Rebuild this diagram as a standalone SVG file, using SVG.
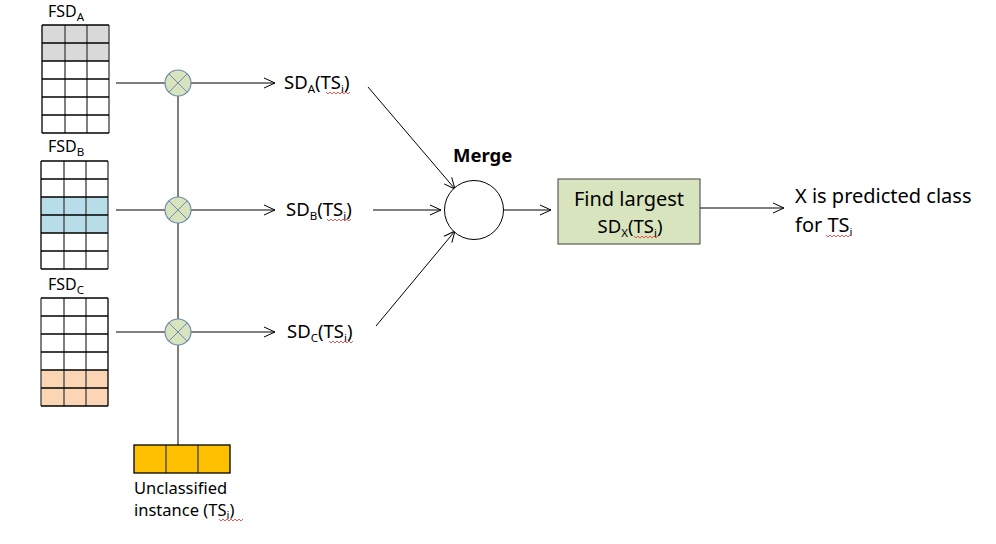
<svg xmlns="http://www.w3.org/2000/svg" width="996" height="544" viewBox="0 0 996 544">
<defs>
<marker id="arr" markerWidth="14" markerHeight="12" refX="12" refY="6" orient="auto" markerUnits="userSpaceOnUse">
<path d="M1,1 L12,6 L1,11" fill="none" stroke="#000" stroke-width="1"/>
</marker>
</defs>
<style>
text{font-family:"Noto Sans","Open Sans","Liberation Sans",sans-serif;fill:#000}
.lbl{font-size:20px}
.sd{font-size:18.5px}
.sm{font-size:16px}
.sub{font-size:11.5px}
.grid{stroke:#000;stroke-width:1.3;fill:none}
.gridv{stroke:#555;stroke-width:1.5}
.mul{fill:#d7e4bd;stroke:#6f8bb0;stroke-width:1.2}
.x{stroke:#6f8bb0;stroke-width:1;fill:none}
.ln{stroke:#000;stroke-width:1;fill:none}
.arrow{stroke:#000;stroke-width:1;fill:none;marker-end:url(#arr)}
.sq{stroke:#e03030;stroke-width:0.8;fill:none}
</style>
<rect width="996" height="544" fill="#fff"/>

<g id="fsdA">
<text class="sm" x="48" y="17">FSD<tspan class="sub" dy="4">A</tspan></text>
<rect x="42" y="25" width="67" height="36" fill="#d9d9d9"/>
<g class="gridv"><line x1="65" y1="25" x2="65" y2="133"/><line x1="87" y1="25" x2="87" y2="133"/><line x1="109" y1="25" x2="109" y2="133"/></g>
<g class="grid"><line x1="42" y1="25" x2="42" y2="133"/><line x1="42" y1="25" x2="109" y2="25"/><line x1="42" y1="43" x2="109" y2="43"/><line x1="42" y1="61" x2="109" y2="61"/><line x1="42" y1="79" x2="109" y2="79"/><line x1="42" y1="97" x2="109" y2="97"/><line x1="42" y1="115" x2="109" y2="115"/><line x1="42" y1="133" x2="109" y2="133"/></g>
</g>

<g id="fsdB">
<text class="sm" x="48" y="152">FSD<tspan class="sub" dy="4">B</tspan></text>
<rect x="41" y="197" width="67" height="36" fill="#b7dde8"/>
<g class="gridv"><line x1="64" y1="161" x2="64" y2="269"/><line x1="86" y1="161" x2="86" y2="269"/><line x1="108" y1="161" x2="108" y2="269"/></g>
<g class="grid"><line x1="41" y1="161" x2="41" y2="269"/><line x1="41" y1="161" x2="108" y2="161"/><line x1="41" y1="179" x2="108" y2="179"/><line x1="41" y1="197" x2="108" y2="197"/><line x1="41" y1="215" x2="108" y2="215"/><line x1="41" y1="233" x2="108" y2="233"/><line x1="41" y1="251" x2="108" y2="251"/><line x1="41" y1="269" x2="108" y2="269"/></g>
</g>

<g id="fsdC">
<text class="sm" x="48" y="290">FSD<tspan class="sub" dy="4">C</tspan></text>
<rect x="41" y="370" width="67" height="36" fill="#fcd5b5"/>
<g class="gridv"><line x1="41" y1="298" x2="41" y2="406"/><line x1="64" y1="298" x2="64" y2="406"/><line x1="86" y1="298" x2="86" y2="406"/></g>
<g class="grid"><line x1="108" y1="298" x2="108" y2="406"/><line x1="41" y1="298" x2="108" y2="298"/><line x1="41" y1="316" x2="108" y2="316"/><line x1="41" y1="334" x2="108" y2="334"/><line x1="41" y1="352" x2="108" y2="352"/><line x1="41" y1="370" x2="108" y2="370"/><line x1="41" y1="388" x2="108" y2="388"/><line x1="41" y1="406" x2="108" y2="406"/></g>
</g>

<g id="instance">
<rect x="134" y="445" width="96" height="28" fill="#ffc000"/>
<g class="gridv"><line x1="166" y1="445" x2="166" y2="473"/><line x1="198" y1="445" x2="198" y2="473"/></g>
<rect x="134" y="445" width="96" height="28" class="grid"/>
<text style="font-size:16.5px" x="134" y="494">Unclassified</text>
<text style="font-size:16.5px" x="134" y="516">instance (TS<tspan class="sub" dy="3">i</tspan><tspan dy="-3">)</tspan></text>
<path class="sq" d="M219,519 l2,2 l2,-2 l2,2 l2,-2 l2,2 l2,-2 l2,2 l2,-2 l2,2 l2,-2 l2,2 l2,-2"/>
</g>

<g id="connectors">
<line class="ln" x1="116" y1="83" x2="165" y2="83"/>
<line class="ln" x1="116" y1="210" x2="165" y2="210"/>
<line class="ln" x1="116" y1="332" x2="165" y2="332"/>
<line class="ln" x1="178" y1="96" x2="178" y2="197"/>
<line class="ln" x1="178" y1="223" x2="178" y2="319"/>
<line class="ln" x1="178" y1="345" x2="178" y2="445"/>
<line class="arrow" x1="191" y1="83" x2="275" y2="83"/>
<line class="arrow" x1="191" y1="210" x2="275" y2="210"/>
<line class="arrow" x1="191" y1="332" x2="275" y2="332"/>
<line class="arrow" x1="368" y1="87" x2="455" y2="189"/>
<line class="arrow" x1="373" y1="210" x2="441" y2="210"/>
<line class="arrow" x1="376" y1="326" x2="455" y2="231"/>
<line class="arrow" x1="504" y1="210" x2="551" y2="210"/>
<line class="arrow" x1="700" y1="208" x2="784" y2="208"/>
</g>

<g id="mulA"><circle class="mul" cx="178" cy="83" r="13"/><path class="x" d="M168.8,73.8 L187.2,92.2 M187.2,73.8 L168.8,92.2"/></g>
<g id="mulB"><circle class="mul" cx="178" cy="210" r="13"/><path class="x" d="M168.8,200.8 L187.2,219.2 M187.2,200.8 L168.8,219.2"/></g>
<g id="mulC"><circle class="mul" cx="178" cy="332" r="13"/><path class="x" d="M168.8,322.8 L187.2,341.2 M187.2,322.8 L168.8,341.2"/></g>

<g id="sdA">
<text class="sd" x="284" y="89">SD<tspan class="sub" dy="4">A</tspan><tspan dy="-4">(TS</tspan><tspan class="sub" dy="4">i</tspan><tspan dy="-4">)</tspan></text>
<path class="sq" d="M326,92 l2,2 l2,-2 l2,2 l2,-2 l2,2 l2,-2 l2,2 l2,-2 l2,2 l2,-2 l2,2 l2,-2"/>
</g>
<g id="sdB">
<text class="sd" x="286" y="216">SD<tspan class="sub" dy="4">B</tspan><tspan dy="-4">(TS</tspan><tspan class="sub" dy="4">i</tspan><tspan dy="-4">)</tspan></text>
<path class="sq" d="M327,219 l2,2 l2,-2 l2,2 l2,-2 l2,2 l2,-2 l2,2 l2,-2 l2,2 l2,-2 l2,2 l2,-2"/>
</g>
<g id="sdC">
<text class="sd" x="287" y="338">SD<tspan class="sub" dy="4">C</tspan><tspan dy="-4">(TS</tspan><tspan class="sub" dy="4">i</tspan><tspan dy="-4">)</tspan></text>
<path class="sq" d="M329,341 l2,2 l2,-2 l2,2 l2,-2 l2,2 l2,-2 l2,2 l2,-2 l2,2 l2,-2 l2,2 l2,-2"/>
</g>

<g id="merge">
<text x="453" y="162" style="font-size:18.5px;font-weight:bold">Merge</text>
<circle cx="474" cy="210" r="29.5" fill="#fff" stroke="#000" stroke-width="1"/>
</g>

<g id="findLargest">
<rect x="558" y="179" width="142" height="65" fill="#d7e4bd" stroke="#404040" stroke-width="1"/>
<text class="lbl" x="629" y="206" text-anchor="middle">Find largest</text>
<text class="sd" x="630" y="233" text-anchor="middle">SD<tspan class="sub" dy="4">X</tspan><tspan dy="-4">(TS</tspan><tspan class="sub" dy="4">i</tspan><tspan dy="-4">)</tspan></text>
<path class="sq" d="M634,236 l2,2 l2,-2 l2,2 l2,-2 l2,2 l2,-2 l2,2 l2,-2 l2,2 l2,-2 l2,2 l2,-2"/>
</g>

<g id="result">
<text class="lbl" x="795" y="203">X is predicted class</text>
<text class="lbl" x="795" y="232">for TS<tspan class="sub" dy="4">i</tspan></text>
<path class="sq" d="M826,235 l2,2 l2,-2 l2,2 l2,-2 l2,2 l2,-2 l2,2 l2,-2 l2,2 l2,-2 l2,2 l2,-2"/>
</g>
</svg>
